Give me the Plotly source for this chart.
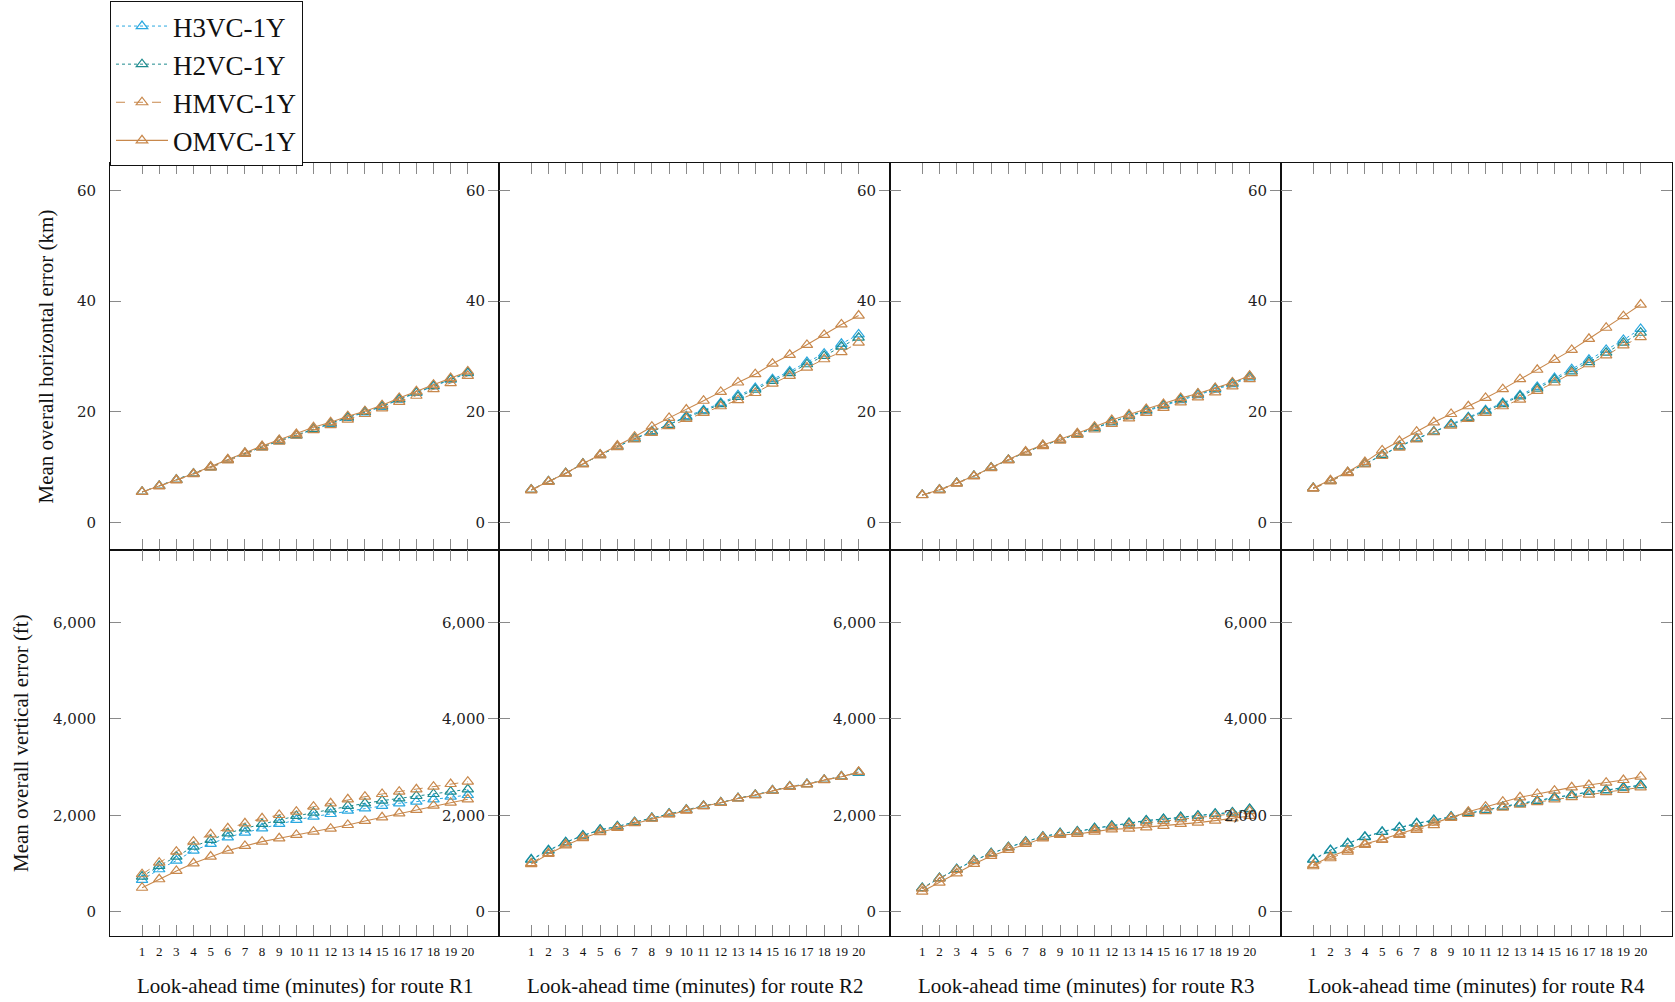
import plotly.graph_objects as go

# Look-ahead times (minutes)
minutes = list(range(1, 21))
routes = ["R1", "R2", "R3", "R4"]
series_names = ["H3VC-1Y", "H2VC-1Y", "HMVC-1Y", "OMVC-1Y"]

# Mean overall horizontal error (km), per route
horiz_r1_h3vc = [5.5, 6.6, 7.7, 8.8, 10.0, 11.3, 12.5, 13.6, 14.7, 15.7, 16.8, 17.8, 18.9, 19.9, 20.9, 22.2, 23.4, 24.6, 25.8, 27.0]
horiz_r1_h2vc = [5.5, 6.6, 7.7, 8.8, 10.0, 11.3, 12.5, 13.7, 14.8, 15.8, 16.9, 17.9, 19.0, 20.0, 21.0, 22.3, 23.5, 24.7, 25.9, 27.1]
horiz_r1_hmvc = [5.5, 6.5, 7.6, 8.7, 9.9, 11.2, 12.4, 13.5, 14.6, 15.7, 16.7, 17.6, 18.6, 19.6, 20.6, 21.8, 22.9, 24.1, 25.2, 26.5]
horiz_r1_omvc = [5.5, 6.6, 7.7, 8.8, 10.1, 11.4, 12.6, 13.8, 14.9, 16.0, 17.2, 18.1, 19.2, 20.1, 21.2, 22.5, 23.7, 24.9, 26.1, 27.3]

horiz_r2_h3vc = [5.9, 7.4, 8.9, 10.6, 12.2, 13.7, 15.2, 16.5, 17.7, 19.2, 20.3, 21.6, 23.0, 24.3, 25.9, 27.3, 29.0, 30.5, 32.3, 34.0]
horiz_r2_h2vc = [5.9, 7.4, 8.9, 10.6, 12.2, 13.7, 15.1, 16.4, 17.6, 19.0, 20.1, 21.4, 22.7, 24.0, 25.6, 27.0, 28.6, 30.1, 31.8, 33.4]
horiz_r2_hmvc = [5.8, 7.3, 8.8, 10.5, 12.1, 13.6, 15.0, 16.2, 17.4, 18.7, 19.8, 21.0, 22.1, 23.4, 25.1, 26.5, 28.0, 29.5, 30.8, 32.5]
horiz_r2_omvc = [5.9, 7.4, 8.9, 10.6, 12.3, 13.9, 15.5, 17.3, 18.9, 20.4, 22.0, 23.6, 25.3, 26.8, 28.7, 30.3, 32.1, 33.9, 35.8, 37.4]

horiz_r3_h3vc = [4.95, 5.9, 7.1, 8.4, 9.9, 11.3, 12.7, 13.9, 14.9, 15.9, 17.0, 18.1, 19.2, 20.1, 21.1, 22.1, 23.0, 24.0, 25.0, 26.2]
horiz_r3_h2vc = [4.95, 5.9, 7.1, 8.4, 9.9, 11.3, 12.7, 13.9, 14.9, 16.0, 17.1, 18.2, 19.3, 20.3, 21.2, 22.3, 23.2, 24.2, 25.2, 26.4]
horiz_r3_hmvc = [4.9, 5.8, 7.0, 8.3, 9.8, 11.2, 12.6, 13.8, 14.8, 15.8, 16.8, 17.8, 18.8, 19.8, 20.7, 21.7, 22.6, 23.5, 24.6, 25.9]
horiz_r3_omvc = [4.95, 5.9, 7.1, 8.4, 9.9, 11.3, 12.8, 14.0, 15.0, 16.1, 17.3, 18.5, 19.5, 20.5, 21.4, 22.5, 23.3, 24.3, 25.3, 26.5]

horiz_r4_h3vc = [6.2, 7.5, 9.0, 10.6, 12.2, 13.8, 15.2, 16.4, 17.8, 19.0, 20.3, 21.6, 23.0, 24.5, 26.1, 27.7, 29.4, 31.2, 33.0, 35.0]
horiz_r4_h2vc = [6.2, 7.5, 9.0, 10.6, 12.2, 13.7, 15.1, 16.4, 17.7, 18.9, 20.1, 21.4, 22.8, 24.2, 25.8, 27.3, 29.0, 30.7, 32.5, 34.3]
horiz_r4_hmvc = [6.1, 7.4, 8.9, 10.5, 12.0, 13.5, 15.0, 16.3, 17.5, 18.7, 19.8, 21.0, 22.2, 23.8, 25.3, 27.0, 28.6, 30.2, 32.0, 33.5]
horiz_r4_omvc = [6.2, 7.6, 9.1, 10.9, 13.0, 14.7, 16.4, 18.1, 19.6, 21.0, 22.5, 24.1, 25.9, 27.6, 29.4, 31.2, 33.2, 35.2, 37.3, 39.4]

# Mean overall vertical error (ft), per route
vert_r1_h3vc = [663, 883, 1063, 1270, 1408, 1546, 1643, 1732, 1822, 1905, 1974, 2029, 2098, 2146, 2195, 2250, 2284, 2333, 2388, 2422]
vert_r1_h2vc = [731, 952, 1146, 1352, 1491, 1629, 1732, 1822, 1905, 1988, 2056, 2126, 2195, 2250, 2305, 2353, 2402, 2443, 2491, 2540]
vert_r1_hmvc = [780, 1021, 1249, 1456, 1608, 1732, 1836, 1939, 2008, 2077, 2181, 2250, 2333, 2388, 2443, 2491, 2540, 2595, 2650, 2698]
vert_r1_omvc = [500, 676, 849, 1007, 1146, 1270, 1366, 1456, 1525, 1594, 1663, 1725, 1801, 1884, 1960, 2043, 2112, 2201, 2263, 2333]

vert_r2_h3vc = [1090, 1280, 1445, 1585, 1700, 1770, 1860, 1945, 2035, 2115, 2200, 2265, 2355, 2425, 2515, 2600, 2650, 2735, 2805, 2880]
vert_r2_h2vc = [1080, 1270, 1440, 1580, 1700, 1770, 1860, 1945, 2035, 2115, 2195, 2265, 2355, 2425, 2515, 2595, 2645, 2735, 2805, 2890]
vert_r2_hmvc = [1010, 1220, 1400, 1545, 1665, 1750, 1845, 1935, 2025, 2110, 2190, 2260, 2350, 2420, 2510, 2595, 2645, 2735, 2800, 2900]
vert_r2_omvc = [990, 1200, 1380, 1530, 1650, 1740, 1840, 1930, 2020, 2100, 2190, 2260, 2350, 2420, 2510, 2590, 2640, 2730, 2800, 2900]

vert_r3_h3vc = [490, 697, 883, 1063, 1214, 1339, 1456, 1560, 1629, 1663, 1732, 1781, 1836, 1891, 1919, 1960, 1988, 2029, 2056, 2126]
vert_r3_h2vc = [495, 700, 885, 1065, 1215, 1340, 1456, 1560, 1629, 1665, 1735, 1785, 1840, 1895, 1925, 1965, 1995, 2035, 2060, 2135]
vert_r3_hmvc = [480, 690, 870, 1050, 1200, 1330, 1440, 1545, 1610, 1645, 1700, 1750, 1800, 1850, 1880, 1920, 1950, 1990, 2030, 2090]
vert_r3_omvc = [421, 607, 800, 994, 1159, 1284, 1408, 1525, 1594, 1615, 1663, 1711, 1725, 1753, 1781, 1822, 1849, 1891, 1939, 1988]

vert_r4_h3vc = [1090, 1284, 1422, 1560, 1663, 1753, 1836, 1905, 1974, 2056, 2112, 2181, 2250, 2305, 2374, 2422, 2491, 2526, 2581, 2629]
vert_r4_h2vc = [1080, 1275, 1415, 1550, 1655, 1745, 1830, 1900, 1970, 2050, 2105, 2175, 2245, 2300, 2370, 2420, 2485, 2520, 2575, 2625]
vert_r4_hmvc = [946, 1111, 1249, 1387, 1491, 1594, 1700, 1800, 1950, 2029, 2090, 2160, 2220, 2275, 2330, 2380, 2430, 2480, 2530, 2581]
vert_r4_omvc = [973, 1146, 1284, 1408, 1505, 1615, 1732, 1849, 1953, 2077, 2181, 2284, 2374, 2443, 2512, 2581, 2629, 2677, 2733, 2802]

horizontal = [
    [horiz_r1_h3vc, horiz_r1_h2vc, horiz_r1_hmvc, horiz_r1_omvc],
    [horiz_r2_h3vc, horiz_r2_h2vc, horiz_r2_hmvc, horiz_r2_omvc],
    [horiz_r3_h3vc, horiz_r3_h2vc, horiz_r3_hmvc, horiz_r3_omvc],
    [horiz_r4_h3vc, horiz_r4_h2vc, horiz_r4_hmvc, horiz_r4_omvc],
]
vertical = [
    [vert_r1_h3vc, vert_r1_h2vc, vert_r1_hmvc, vert_r1_omvc],
    [vert_r2_h3vc, vert_r2_h2vc, vert_r2_hmvc, vert_r2_omvc],
    [vert_r3_h3vc, vert_r3_h2vc, vert_r3_hmvc, vert_r3_omvc],
    [vert_r4_h3vc, vert_r4_h2vc, vert_r4_hmvc, vert_r4_omvc],
]

horiz_ticks = [0, 20, 40, 60]
vert_ticks = [0, 2000, 4000, 6000]

W, H = 1675, 1002
col_edges = [110, 499, 890, 1281, 1672]
row_edges = [163, 550, 936]

line_styles = [
    dict(color="#2AA8E0", dash="dot", width=1),
    dict(color="#1E8B8E", dash="dot", width=1),
    dict(color="#C8884C", dash="dash", width=1),
    dict(color="#C8884C", dash="solid", width=1.1),
]

SERIF = "Liberation Serif"
TICK_SERIF = "DejaVu Serif"

fig = go.Figure()
layout = {}

for row in range(2):
    data_rows = horizontal if row == 0 else vertical
    for col in range(4):
        n = row * 4 + col + 1
        xa = "x" if n == 1 else f"x{n}"
        ya = "y" if n == 1 else f"y{n}"
        for s, name in enumerate(series_names):
            st = line_styles[s]
            fig.add_trace(go.Scatter(
                x=minutes, y=data_rows[col][s], xaxis=xa, yaxis=ya,
                mode="lines+markers", name=name, legendgroup=name,
                showlegend=(n == 1),
                line=dict(color=st["color"], dash=st["dash"], width=st["width"]),
                marker=dict(symbol="triangle-up-open", size=10, color=st["color"],
                            line=dict(width=1.2, color=st["color"])),
            ))

        x_dom = [col_edges[col] / W, col_edges[col + 1] / W]
        y_dom = [1 - row_edges[row + 1] / H, 1 - row_edges[row] / H]
        common = dict(ticks="inside", ticklen=11, tickwidth=1, tickcolor="#8a8a8a",
                      showline=True, linecolor="#111", linewidth=1, mirror="allticks",
                      showgrid=False, zeroline=False)
        layout["xaxis" if n == 1 else f"xaxis{n}"] = dict(
            domain=x_dom, anchor=ya, range=[-0.87, 21.82],
            tickmode="array", tickvals=minutes, ticktext=[str(m) for m in minutes],
            showticklabels=(row == 1), ticklabelstandoff=3,
            tickfont=dict(family=SERIF, size=13, color="#111"), **common)
        if row == 0:
            yr, yt = [-5, 65], horiz_ticks
        else:
            yr, yt = [-500, 7500], vert_ticks
        layout["yaxis" if n == 1 else f"yaxis{n}"] = dict(
            domain=y_dom, anchor=xa, range=yr,
            tickmode="array", tickvals=yt, tickformat=",d",
            ticklabelstandoff=10,
            tickfont=dict(family=TICK_SERIF, size=15, color="#222"), **common)

annotations = []
for col, route in enumerate(routes):
    annotations.append(dict(
        text=f"Look-ahead time (minutes) for route {route}",
        x=(col_edges[col] + col_edges[col + 1]) / 2 / W, y=1 - 986 / H,
        xref="paper", yref="paper", xanchor="center", yanchor="middle",
        showarrow=False, font=dict(family=SERIF, size=21, color="#111")))
annotations.append(dict(
    text="Mean overall horizontal error (km)", textangle=-90,
    x=45 / W, y=1 - (row_edges[0] + row_edges[1]) / 2 / H,
    xref="paper", yref="paper", xanchor="center", yanchor="middle",
    showarrow=False, font=dict(family=SERIF, size=21, color="#111")))
annotations.append(dict(
    text="Mean overall vertical error (ft)", textangle=-90,
    x=21 / W, y=1 - (row_edges[1] + row_edges[2]) / 2 / H,
    xref="paper", yref="paper", xanchor="center", yanchor="middle",
    showarrow=False, font=dict(family=SERIF, size=21, color="#111")))

fig.update_layout(
    width=W, height=H,
    margin=dict(l=0, r=0, t=0, b=0),
    paper_bgcolor="white", plot_bgcolor="white",
    annotations=annotations,
    legend=dict(x=110 / W, y=1 - 1 / H, xanchor="left", yanchor="top",
                bgcolor="white", bordercolor="#111", borderwidth=1,
                font=dict(family=SERIF, size=27, color="#111"),
                itemwidth=52, tracegroupgap=0),
    **layout,
)

fig.write_html("out.html")
